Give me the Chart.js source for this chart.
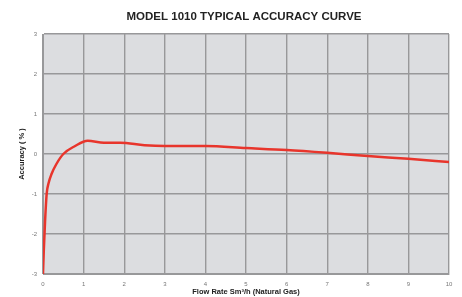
<!DOCTYPE html>
<html>
<head>
<meta charset="utf-8">
<script src="https://cdn.jsdelivr.net/npm/chart.js@4"></script>
<style>
  html, body { margin: 0; padding: 0; background: #fff; }
  #wrap { width: 462px; height: 297px; }
</style>
</head>
<body>
<div id="wrap"><canvas id="accChart" width="462" height="297"></canvas></div>
<script>
// flow rate (Sm3/h) and accuracy (%)
const flowRate = [0, 0.02, 0.05, 0.09, 0.14, 0.21, 0.33, 0.5, 0.79, 1.1, 1.5, 1.9, 2.5, 3, 4, 5, 6, 7, 8, 9, 10];
const accuracy = [-3, -2.4, -1.7, -1, -0.72, -0.5, -0.25, 0, 0.2, 0.33, 0.28, 0.28, 0.22, 0.2, 0.2, 0.15, 0.1, 0.03, -0.05, -0.12, -0.2];
const xTicks = [0, 1, 2, 3, 4, 5, 6, 7, 8, 9, 10];
const yTicks = [-3, -2, -1, 0, 1, 2, 3];
const chartTitle = "MODEL 1010 TYPICAL ACCURACY CURVE";

const points = flowRate.map((x, i) => ({ x: x, y: accuracy[i] }));

// grey plot background + title centred over the plot
const plotBg = {
  id: "plotBg",
  beforeDraw(chart) {
    const { ctx, chartArea: a } = chart;
    ctx.save();
    ctx.fillStyle = "#dcdde0";
    ctx.fillRect(a.left, a.top, a.right - a.left, a.bottom - a.top);
    ctx.restore();
  },
  afterDraw(chart) {
    const ctx = chart.ctx;
    ctx.save();
    ctx.fillStyle = "#222";
    ctx.font = "bold 11.5px 'Liberation Sans'";
    ctx.textAlign = "center";
    ctx.textBaseline = "middle";
    ctx.fillText(chartTitle, 244, 17);
    ctx.restore();
  }
};

new Chart(document.getElementById("accChart"), {
  type: "scatter",
  data: {
    datasets: [{
      data: points,
      showLine: true,
      borderColor: "#e8352c",
      borderWidth: 2.5,
      pointRadius: 0,
      tension: 0.4,
      cubicInterpolationMode: "monotone"
    }]
  },
  options: {
    responsive: false,
    animation: false,
    layout: { padding: { left: 17, right: 13, top: 34, bottom: 1 } },
    plugins: {
      legend: { display: false },
      tooltip: { enabled: false },
      title: { display: false }
    },
    scales: {
      x: {
        type: "linear",
        min: 0,
        max: 10,
        afterBuildTicks: (s) => { s.ticks = xTicks.map(v => ({ value: v })); },
        afterFit: (s) => { s.height = 22; },
        grid: { color: "#98989a", lineWidth: 1.4, drawTicks: false },
        border: { color: "#98989a" },
        ticks: { color: "#777", font: { family: "Liberation Sans", size: 6 }, padding: 7 },
        title: {
          display: true,
          text: "Flow Rate Sm\u00b3/h (Natural Gas)",
          color: "#222",
          font: { family: "Liberation Sans", size: 7.5, weight: "bold" },
          padding: { top: 0, bottom: 0 }
        }
      },
      y: {
        min: -3,
        max: 3,
        afterBuildTicks: (s) => { s.ticks = yTicks.map(v => ({ value: v })); },
        afterFit: (s) => { s.width = 26; },
        grid: { color: "#98989a", lineWidth: 1.4, drawTicks: false },
        border: { color: "#98989a" },
        ticks: { color: "#777", font: { family: "Liberation Sans", size: 6 }, padding: 6 },
        title: {
          display: true,
          text: "Accuracy ( % )",
          color: "#222",
          font: { family: "Liberation Sans", size: 7.5, weight: "bold" },
          padding: { top: 0, bottom: 0 }
        }
      }
    }
  },
  plugins: [plotBg]
});
</script>
</body>
</html>
